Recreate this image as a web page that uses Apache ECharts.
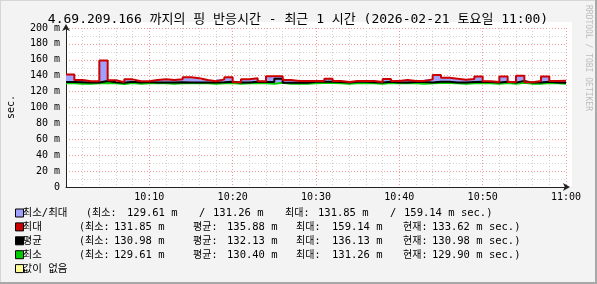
<!DOCTYPE html>
<html><head><meta charset="utf-8">
<script src="https://cdn.jsdelivr.net/npm/echarts@6/dist/echarts.min.js"></script>
<style>html,body{margin:0;padding:0;background:#f3f3f3}#c{width:597px;height:284px}</style>
</head><body><div id="c"></div>
<script>
// Per-minute samples, 10:00 .. 11:00 (60 one-minute steps)
const maxVals = [141.5,134.6,133.0,133.0,159.1,134.2,131.9,135.4,133.0,133.0,
                 134.6,135.4,134.6,135.4,138.0,136.8,134.6,133.0,135.4,138.0,
                 131.9,135.4,136.8,133.0,139.2,139.2,134.6,133.3,133.3,133.3,
                 133.3,136.3,133.3,132.0,133.3,133.3,133.3,132.0,136.0,133.3,
                 134.6,133.3,133.3,135.4,141.0,137.5,136.3,135.0,136.0,139.0,
                 133.0,132.0,139.0,132.0,140.0,131.9,133.3,139.0,133.3,133.6];
const avgVals = [132.0,131.8,131.5,131.5,133.3,131.8,131.0,132.3,131.5,132.0,
                 131.5,131.5,131.5,131.8,131.5,131.5,131.5,131.3,131.8,132.5,
                 131.3,131.5,132.5,132.0,132.0,136.1,131.0,131.0,131.0,132.5,
                 132.5,132.5,132.0,131.5,132.3,132.3,131.8,131.3,132.3,131.5,
                 131.5,132.0,132.0,131.5,132.3,132.3,131.5,131.5,132.0,132.3,
                 132.0,131.3,132.5,131.3,133.5,131.3,131.3,132.5,131.5,131.0];
const minVals = [130.4,130.0,129.8,130.4,130.8,130.4,129.6,130.8,130.0,130.4,
                 130.8,130.4,130.0,130.4,130.4,130.8,130.4,129.8,130.4,130.8,
                 129.8,130.4,130.8,130.4,130.0,131.2,130.0,129.8,130.0,130.4,
                 130.8,130.8,130.4,129.8,130.4,130.4,130.4,129.8,130.8,130.4,
                 130.4,130.4,130.0,130.4,130.8,130.8,130.4,130.0,130.4,130.8,
                 130.4,129.8,130.8,129.8,131.2,130.0,129.8,130.8,130.4,129.9];
const xTickLabels = ['10:00','10:10','10:20','10:30','10:40','10:50','11:00'];
const yTickLabels = ['0','20 m','40 m','60 m','80 m','100 m','120 m','140 m','160 m','180 m','200 m'];
const titleText = '4.69.209.166 까지의 핑 반응시간 - 최근 1 시간 (2026-02-21 토요일 11:00)';
const legendRows = [
  {label:'최소/최대', color:'#a0a0ff', parts:[['(최소:',86],['129.61 m',127],['/',199],['131.26 m',213],['최대:',285],['131.85 m',318],['/',390],['159.14 m sec.)',404]]},
  {label:'최대', color:'#cc0000', parts:[['(최소:',79],['131.85 m',114],['평균:',193],['135.88 m',227],['최대:',296],['159.14 m',332],['현재:',403],['133.62 m sec.)',432]]},
  {label:'평균', color:'#000000', parts:[['(최소:',79],['130.98 m',114],['평균:',193],['132.13 m',227],['최대:',296],['136.13 m',332],['현재:',403],['130.98 m sec.)',432]]},
  {label:'최소', color:'#00cc00', parts:[['(최소:',79],['129.61 m',114],['평균:',193],['130.40 m',227],['최대:',296],['131.26 m',332],['현재:',403],['129.90 m sec.)',432]]},
  {label:'값이 없음', color:'#ffff99', parts:[]}
];

const FONT = "'DejaVu Sans Mono','Noto Sans CJK KR',monospace";
const stepData = arr => arr.map((v,i)=>[i,v]).concat([[arr.length, arr[arr.length-1]]]);
const hasHangul = s => /[\uac00-\ud7a3]/.test(s);

const chart = echarts.init(document.getElementById('c'), null, {renderer:'canvas'});

const graphics = [];
graphics.push({type:'rect', z:-100, shape:{x:66,y:22,width:506,height:165}, style:{fill:'#ffffff'}});
graphics.push({type:'rect', z:-100, shape:{x:0,y:0,width:597,height:1}, style:{fill:'#d6d6d6'}});
graphics.push({type:'rect', z:-100, shape:{x:0,y:0,width:1,height:284}, style:{fill:'#d6d6d6'}});
graphics.push({type:'rect', z:-100, shape:{x:0,y:282,width:597,height:2}, style:{fill:'#a8a8a8'}});
graphics.push({type:'rect', z:-100, shape:{x:595,y:0,width:2,height:284}, style:{fill:'#a8a8a8'}});
graphics.push({type:'text', x:298, y:19.5, style:{text:titleText, font:"13px "+FONT, fill:'#000', align:'center', verticalAlign:'middle'}});
graphics.push({type:'text', x:11, y:107, rotation:Math.PI/2, style:{text:'sec.', font:"10px "+FONT, fill:'#000', align:'center', verticalAlign:'middle'}});
graphics.push({type:'text', x:588, y:5, rotation:-Math.PI/2, style:{text:'RRDTOOL / TOBI OETIKER', font:"8px "+FONT, fill:'#bdbdbd', align:'left', verticalAlign:'middle'}});
legendRows.forEach((r, k) => {
  const yc = 213.5 + k*13.9;
  graphics.push({type:'rect', shape:{x:15.5,y:yc-4.5,width:8,height:8}, style:{fill:r.color, stroke:'#000', lineWidth:1}});
  graphics.push({type:'text', x:22.5, y:yc, style:{text:r.label, font:"10.5px "+FONT, fill:'#000', verticalAlign:'middle'}});
  r.parts.forEach(p => {
    const fs = hasHangul(p[0]) ? '10px ' : '10.5px ';
    graphics.push({type:'text', x:p[1], y:yc, style:{text:p[0], font:fs+FONT, fill:'#000', verticalAlign:'middle'}});
  });
});

const option = {
  backgroundColor:'#f3f3f3',
  animation:false,
  grid:{left:66, right:31, top:28, bottom:97, containLabel:false},
  xAxis:{
    type:'value', min:0, max:60, interval:10,
    axisLine:{show:true, lineStyle:{color:'#222', width:1}, symbol:['none','arrow'], symbolSize:[6,7], symbolOffset:[0,4]},
    axisTick:{show:false},
    axisLabel:{show:true, showMinLabel:false, margin:5, fontFamily:FONT, fontSize:10, color:'#000',
      formatter:v => xTickLabels[Math.round(v/10)] || ''},
    splitLine:{show:true, lineStyle:{color:'#f09a9a', width:1, type:[1,2]}},
    minorTick:{show:false, splitNumber:5},
    minorSplitLine:{show:true, lineStyle:{color:'#d2d2d2', width:1, type:[1,2]}}
  },
  yAxis:{
    type:'value', min:0, max:200, interval:20,
    axisLine:{show:true, lineStyle:{color:'#222', width:1}, symbol:['none','arrow'], symbolSize:[6,7], symbolOffset:[0,4]},
    axisTick:{show:false},
    axisLabel:{show:true, margin:6, fontFamily:FONT, fontSize:10, color:'#000',
      formatter:v => yTickLabels[Math.round(v/20)] || ''},
    splitLine:{show:true, lineStyle:{color:'#f09a9a', width:1, type:[1,2]}},
    minorTick:{show:false, splitNumber:2},
    minorSplitLine:{show:true, lineStyle:{color:'#d2d2d2', width:1, type:[1,2]}}
  },
  graphic:graphics,
  series:[
    {type:'custom', z:1, silent:true, data:[[0, minVals[0]]],
      renderItem:(params, api) => {
        const pts = [];
        for (let i=0;i<maxVals.length;i++){ pts.push(api.coord([i,maxVals[i]])); pts.push(api.coord([i+1,maxVals[i]])); }
        for (let i=minVals.length-1;i>=0;i--){ pts.push(api.coord([i+1,minVals[i]])); pts.push(api.coord([i,minVals[i]])); }
        return {type:'polygon', shape:{points:pts}, style:{fill:'#a0a0ff'}};
      }},
    {name:'최소', type:'line', step:'end', z:3, data:stepData(minVals), symbol:'none', lineStyle:{color:'#00cc00', width:2}},
    {name:'평균', type:'line', step:'end', z:4, data:stepData(avgVals), symbol:'none', lineStyle:{color:'#000000', width:2}},
    {name:'최대', type:'line', step:'end', z:5, data:stepData(maxVals), symbol:'none', lineStyle:{color:'#cc0000', width:2}}
  ]
};
chart.setOption(option);
</script></body></html>
